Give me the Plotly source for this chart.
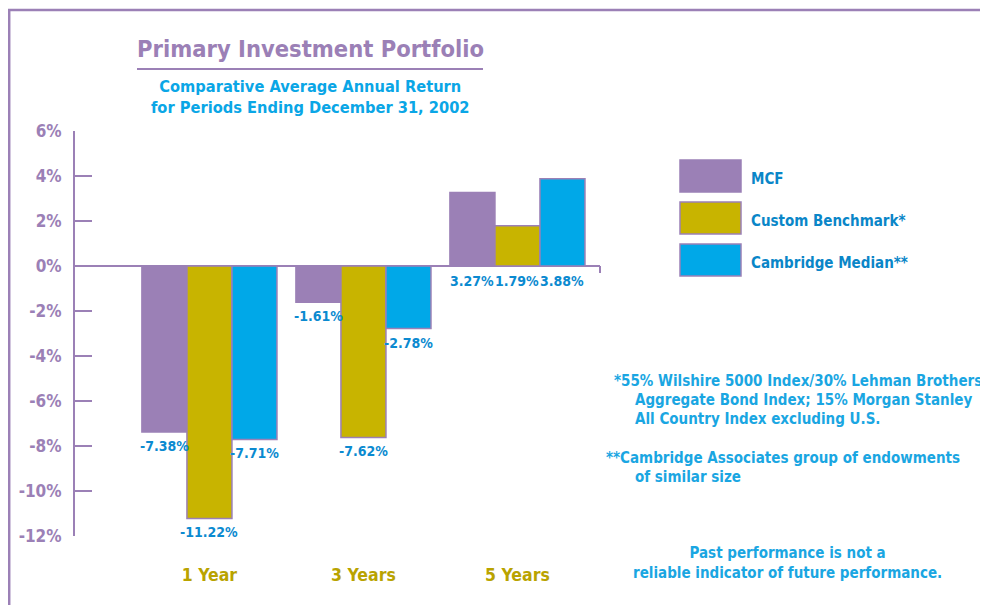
import plotly.graph_objects as go

categories = ["1 Year", "3 Years", "5 Years"]
series_names = ["MCF", "Custom Benchmark*", "Cambridge Median**"]
mcf = [-7.38, -1.61, 3.27]
custom_benchmark = [-11.22, -7.62, 1.79]
cambridge_median = [-7.71, -2.78, 3.88]
y_tick_vals = [6, 4, 2, 0, -2, -4, -6, -8, -10, -12]
y_tick_text = ["6%", "4%", "2%", "0%", "-2%", "-4%", "-6%", "-8%", "-10%", "-12%"]

series_values = [mcf, custom_benchmark, cambridge_median]
colors = ["#9b80b6", "#c8b400", "#00a8e8"]
PURPLE = "#9b80b6"
LABEL_BLUE = "#0b8ad0"
NOTE_BLUE = "#1aa6e2"
OLIVE = "#b9a300"
FONT = "DejaVu Sans Condensed, Roboto, sans-serif"

W, H = 988, 605
OFF = 8  # page body margin offset
L, R, T, B = 75, 600, 131, 536
BARGAP = 0.123

def px(x):
    return (x - L) / (R - L)

def py(y):
    return (B - y) / (B - T)

fig = go.Figure()
for name, vals, col in zip(series_names, series_values, colors):
    fig.add_trace(go.Bar(
        x=list(range(len(categories))), y=vals, name=name,
        marker=dict(color=col, line=dict(color=PURPLE, width=1.5)),
        showlegend=False,
    ))

bw = (1 - BARGAP) / len(series_names)
annotations = []
for k, vals in enumerate(series_values):
    for i, v in enumerate(vals):
        annotations.append(dict(
            x=i + (k - 1) * bw, y=min(v, 0), xref="x", yref="y",
            text=f"{v:.2f}%", showarrow=False, yanchor="top", xanchor="center",
            yshift=-4 if v < 0 else -5,
            font=dict(family=FONT, size=14, color=LABEL_BLUE, weight="bold"),
        ))

def ann(x, y, text, size, color, xanchor="center", align="center"):
    annotations.append(dict(x=px(x), y=py(y), xref="paper", yref="paper",
        text=text, showarrow=False, xanchor=xanchor, yanchor="middle", align=align,
        font=dict(family=FONT, size=size, color=color, weight="bold")))

# Title
ann(310, 49, "Primary Investment Portfolio", 23.5, PURPLE)
ann(310, 97, "Comparative Average Annual Return<br>for Periods Ending December 31, 2002",
    16.3, "#0aa6e6")

shapes = []
shapes.append(dict(type="line", xref="paper", yref="paper",
    x0=px(137), x1=px(483), y0=py(69), y1=py(69), line=dict(color=PURPLE, width=2)))
# Frame
shapes.append(dict(type="line", xref="paper", yref="paper",
    x0=px(9.2), x1=px(9.2), y0=py(10), y1=py(615), line=dict(color=PURPLE, width=2.5)))
shapes.append(dict(type="line", xref="paper", yref="paper",
    x0=px(8), x1=px(1000), y0=py(10), y1=py(10), line=dict(color=PURPLE, width=2.5)))
# Tick at right end of zero line
shapes.append(dict(type="line", xref="paper", yref="y", ysizemode="pixel", yanchor=0,
    x0=1, x1=1, y0=0, y1=-7, line=dict(color=PURPLE, width=2)))

# Legend
for k, (name, col) in enumerate(zip(series_names, colors)):
    yc = 176 + 42 * k
    shapes.append(dict(type="rect", xref="paper", yref="paper",
        x0=px(680), x1=px(741), y0=py(yc - 16), y1=py(yc + 16),
        fillcolor=col, line=dict(color=PURPLE, width=1.5)))
    ann(749, yc + 3, name, 15, "#0a86c8", xanchor="left")

# Footnotes
notes = [
    (612, 381, "*55% Wilshire 5000 Index/30% Lehman Brothers"),
    (633, 400, "Aggregate Bond Index; 15% Morgan Stanley"),
    (633, 419, "All Country Index excluding U.S."),
    (604, 458, "**Cambridge Associates group of endowments"),
    (633, 477, "of similar size"),
]
for x0, y0, t in notes:
    ann(x0, y0, t, 15, NOTE_BLUE, xanchor="left")
ann(787, 563, "Past performance is not a<br>reliable indicator of future performance.",
    15, NOTE_BLUE)

fig.update_layout(
    width=W, height=H,
    margin=dict(l=L - OFF, r=W - (R - OFF), t=T - OFF, b=H - (B - OFF)),
    paper_bgcolor="white", plot_bgcolor="white",
    barmode="group", bargap=BARGAP, bargroupgap=0,
    annotations=annotations, shapes=shapes,
    xaxis=dict(range=[-0.873, 2.536], tickvals=list(range(len(categories))),
               ticktext=categories, showgrid=False, showline=False, ticks="",
               zeroline=False, ticklabelstandoff=26,
               tickfont=dict(family=FONT, size=17.5, color=OLIVE, weight="bold")),
    yaxis=dict(range=[-12, 6], tickvals=y_tick_vals, ticktext=y_tick_text,
               showgrid=False, showline=True, linecolor=PURPLE, linewidth=2,
               ticks="inside", ticklen=17, tickwidth=2, tickcolor=PURPLE,
               zeroline=True, zerolinecolor=PURPLE, zerolinewidth=2,
               ticklabelstandoff=8,
               tickfont=dict(family=FONT, size=17, color=PURPLE, weight="bold")),
)

fig.write_html("out.html")
